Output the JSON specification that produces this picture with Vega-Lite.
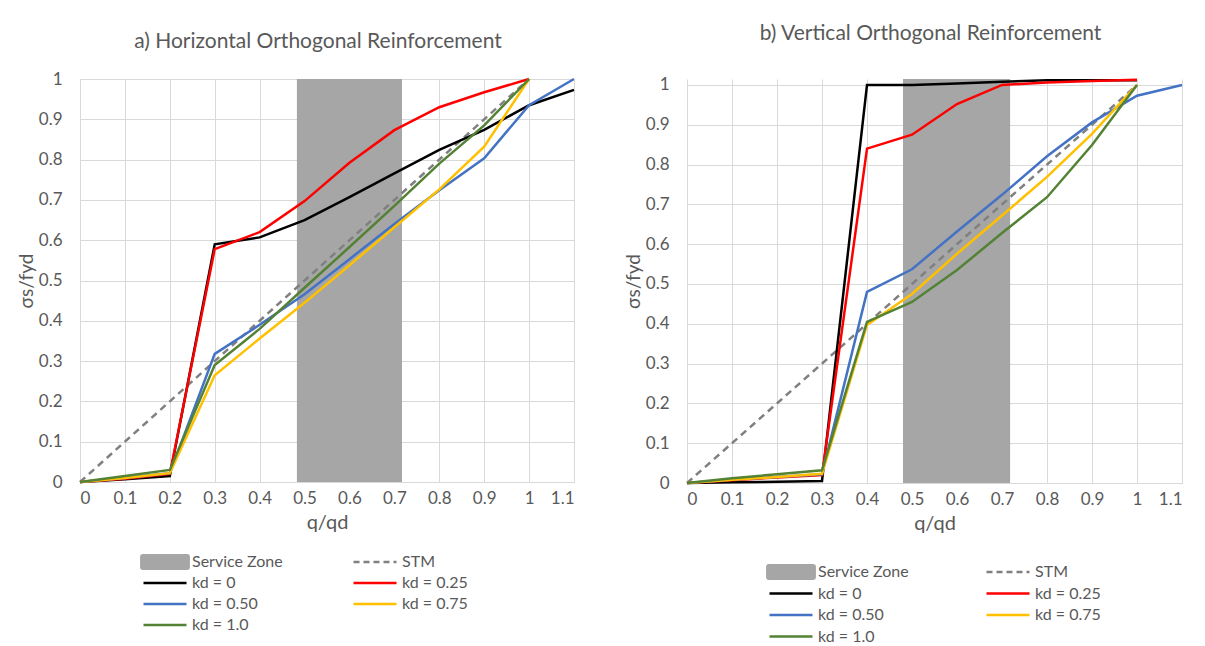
{
  "$schema": "https://vega.github.io/schema/vega-lite/v6.json",
  "background": "white",
  "padding": {"left": 17, "top": 22, "right": 5, "bottom": 5},
  "config": {
    "font": "Lato",
    "view": {"stroke": null},
    "title": {"font": "Lato", "fontSize": 21, "fontWeight": "normal", "color": "#595959"},
    "axis": {
      "labelFont": "Lato", "labelFontSize": 17, "labelColor": "#595959",
      "titleFont": "Lato", "titleFontWeight": "normal", "titleColor": "#595959",
      "gridColor": "#d9d9d9", "gridWidth": 1, "domainColor": "#d9d9d9",
      "ticks": false
    },
    "legend": {
      "labelFont": "Lato", "labelFontSize": 16, "labelColor": "#595959"
    }
  },
  "datasets": {
    "zones": [
      {"panel": "a", "series": "Service Zone", "q0": 0.483, "q1": 0.717},
      {"panel": "b", "series": "Service Zone", "q0": 0.48, "q1": 0.718}
    ],
    "a": [
      {"series": "STM", "q": 0, "s": 0}, {"series": "STM", "q": 1, "s": 1},
      {"series": "kd = 0", "q": 0, "s": 0}, {"series": "kd = 0", "q": 0.1, "s": 0.007}, {"series": "kd = 0", "q": 0.2, "s": 0.015}, {"series": "kd = 0", "q": 0.3, "s": 0.59}, {"series": "kd = 0", "q": 0.4, "s": 0.607}, {"series": "kd = 0", "q": 0.5, "s": 0.65}, {"series": "kd = 0", "q": 0.6, "s": 0.707}, {"series": "kd = 0", "q": 0.7, "s": 0.766}, {"series": "kd = 0", "q": 0.8, "s": 0.824}, {"series": "kd = 0", "q": 0.9, "s": 0.874}, {"series": "kd = 0", "q": 1.0, "s": 0.935}, {"series": "kd = 0", "q": 1.1, "s": 0.973},
      {"series": "kd = 0.25", "q": 0, "s": 0}, {"series": "kd = 0.25", "q": 0.1, "s": 0.008}, {"series": "kd = 0.25", "q": 0.2, "s": 0.02}, {"series": "kd = 0.25", "q": 0.3, "s": 0.578}, {"series": "kd = 0.25", "q": 0.4, "s": 0.62}, {"series": "kd = 0.25", "q": 0.5, "s": 0.697}, {"series": "kd = 0.25", "q": 0.6, "s": 0.792}, {"series": "kd = 0.25", "q": 0.7, "s": 0.873}, {"series": "kd = 0.25", "q": 0.8, "s": 0.93}, {"series": "kd = 0.25", "q": 0.9, "s": 0.967}, {"series": "kd = 0.25", "q": 1.0, "s": 1.0},
      {"series": "kd = 0.50", "q": 0, "s": 0}, {"series": "kd = 0.50", "q": 0.1, "s": 0.01}, {"series": "kd = 0.50", "q": 0.2, "s": 0.022}, {"series": "kd = 0.50", "q": 0.3, "s": 0.318}, {"series": "kd = 0.50", "q": 0.4, "s": 0.39}, {"series": "kd = 0.50", "q": 0.5, "s": 0.466}, {"series": "kd = 0.50", "q": 0.6, "s": 0.553}, {"series": "kd = 0.50", "q": 0.7, "s": 0.64}, {"series": "kd = 0.50", "q": 0.8, "s": 0.724}, {"series": "kd = 0.50", "q": 0.9, "s": 0.803}, {"series": "kd = 0.50", "q": 1.0, "s": 0.935}, {"series": "kd = 0.50", "q": 1.1, "s": 1.0},
      {"series": "kd = 0.75", "q": 0, "s": 0}, {"series": "kd = 0.75", "q": 0.1, "s": 0.01}, {"series": "kd = 0.75", "q": 0.2, "s": 0.022}, {"series": "kd = 0.75", "q": 0.3, "s": 0.265}, {"series": "kd = 0.75", "q": 0.4, "s": 0.356}, {"series": "kd = 0.75", "q": 0.5, "s": 0.445}, {"series": "kd = 0.75", "q": 0.6, "s": 0.538}, {"series": "kd = 0.75", "q": 0.7, "s": 0.632}, {"series": "kd = 0.75", "q": 0.8, "s": 0.726}, {"series": "kd = 0.75", "q": 0.9, "s": 0.832}, {"series": "kd = 0.75", "q": 1.0, "s": 1.0},
      {"series": "kd = 1.0", "q": 0, "s": 0}, {"series": "kd = 1.0", "q": 0.1, "s": 0.015}, {"series": "kd = 1.0", "q": 0.2, "s": 0.03}, {"series": "kd = 1.0", "q": 0.3, "s": 0.29}, {"series": "kd = 1.0", "q": 0.4, "s": 0.38}, {"series": "kd = 1.0", "q": 0.5, "s": 0.482}, {"series": "kd = 1.0", "q": 0.6, "s": 0.583}, {"series": "kd = 1.0", "q": 0.7, "s": 0.685}, {"series": "kd = 1.0", "q": 0.8, "s": 0.79}, {"series": "kd = 1.0", "q": 0.9, "s": 0.885}, {"series": "kd = 1.0", "q": 1.0, "s": 1.0}
    ],
    "b": [
      {"series": "STM", "q": 0, "s": 0}, {"series": "STM", "q": 1, "s": 1},
      {"series": "kd = 0", "q": 0, "s": 0}, {"series": "kd = 0", "q": 0.1, "s": 0.002}, {"series": "kd = 0", "q": 0.2, "s": 0.003}, {"series": "kd = 0", "q": 0.3, "s": 0.005}, {"series": "kd = 0", "q": 0.4, "s": 1.0}, {"series": "kd = 0", "q": 0.5, "s": 1.0}, {"series": "kd = 0", "q": 0.6, "s": 1.004}, {"series": "kd = 0", "q": 0.7, "s": 1.008}, {"series": "kd = 0", "q": 0.8, "s": 1.012}, {"series": "kd = 0", "q": 0.9, "s": 1.012}, {"series": "kd = 0", "q": 1.0, "s": 1.012},
      {"series": "kd = 0.25", "q": 0, "s": 0}, {"series": "kd = 0.25", "q": 0.1, "s": 0.007}, {"series": "kd = 0.25", "q": 0.2, "s": 0.014}, {"series": "kd = 0.25", "q": 0.3, "s": 0.02}, {"series": "kd = 0.25", "q": 0.4, "s": 0.84}, {"series": "kd = 0.25", "q": 0.5, "s": 0.875}, {"series": "kd = 0.25", "q": 0.6, "s": 0.952}, {"series": "kd = 0.25", "q": 0.7, "s": 1.0}, {"series": "kd = 0.25", "q": 0.8, "s": 1.006}, {"series": "kd = 0.25", "q": 0.9, "s": 1.01}, {"series": "kd = 0.25", "q": 1.0, "s": 1.013},
      {"series": "kd = 0.50", "q": 0, "s": 0}, {"series": "kd = 0.50", "q": 0.1, "s": 0.008}, {"series": "kd = 0.50", "q": 0.2, "s": 0.015}, {"series": "kd = 0.50", "q": 0.3, "s": 0.022}, {"series": "kd = 0.50", "q": 0.4, "s": 0.48}, {"series": "kd = 0.50", "q": 0.5, "s": 0.537}, {"series": "kd = 0.50", "q": 0.6, "s": 0.632}, {"series": "kd = 0.50", "q": 0.7, "s": 0.724}, {"series": "kd = 0.50", "q": 0.8, "s": 0.821}, {"series": "kd = 0.50", "q": 0.9, "s": 0.906}, {"series": "kd = 0.50", "q": 1.0, "s": 0.973}, {"series": "kd = 0.50", "q": 1.1, "s": 1.0},
      {"series": "kd = 0.75", "q": 0, "s": 0}, {"series": "kd = 0.75", "q": 0.1, "s": 0.008}, {"series": "kd = 0.75", "q": 0.2, "s": 0.015}, {"series": "kd = 0.75", "q": 0.3, "s": 0.023}, {"series": "kd = 0.75", "q": 0.4, "s": 0.397}, {"series": "kd = 0.75", "q": 0.5, "s": 0.475}, {"series": "kd = 0.75", "q": 0.6, "s": 0.576}, {"series": "kd = 0.75", "q": 0.7, "s": 0.672}, {"series": "kd = 0.75", "q": 0.8, "s": 0.769}, {"series": "kd = 0.75", "q": 0.9, "s": 0.877}, {"series": "kd = 0.75", "q": 1.0, "s": 1.0},
      {"series": "kd = 1.0", "q": 0, "s": 0}, {"series": "kd = 1.0", "q": 0.1, "s": 0.012}, {"series": "kd = 1.0", "q": 0.2, "s": 0.022}, {"series": "kd = 1.0", "q": 0.3, "s": 0.032}, {"series": "kd = 1.0", "q": 0.4, "s": 0.405}, {"series": "kd = 1.0", "q": 0.5, "s": 0.455}, {"series": "kd = 1.0", "q": 0.6, "s": 0.535}, {"series": "kd = 1.0", "q": 0.7, "s": 0.628}, {"series": "kd = 1.0", "q": 0.8, "s": 0.718}, {"series": "kd = 1.0", "q": 0.9, "s": 0.849}, {"series": "kd = 1.0", "q": 1.0, "s": 1.0}
    ]
  },
  "bounds": "flush",
  "spacing": 113,
  "resolve": {"scale": {"color": "independent", "y": "independent", "x": "independent"}, "legend": {"color": "independent"}},
  "hconcat": [
    {
      "width": 494, "height": 403,
      "title": {"text": "a) Horizontal Orthogonal Reinforcement", "offset": 18, "dx": -9},
      "layer": [
        {
          "data": {"name": "zones"},
          "transform": [{"filter": "datum.panel === 'a'"}],
          "mark": {"type": "rect"},
          "encoding": {
            "x": {"field": "q0", "type": "quantitative", "scale": {"domain": [0, 1.1], "nice": false}, "axis": {"values": [0,0.1,0.2,0.3,0.4,0.5,0.6,0.7,0.8,0.9,1,1.1], "format": ".1~f", "title": "q/qd", "titleFontSize": 20, "titlePadding": 6, "labelPadding": 8}},
            "x2": {"field": "q1"},
            "color": {"field": "series", "type": "nominal",
              "scale": {"domain": ["Service Zone","kd = 0","kd = 0.50","kd = 1.0","STM","kd = 0.25","kd = 0.75"], "range": ["#a6a6a6","#000000","#4472c4","#548235","#808080","#ff0000","#ffc000"]},
              "legend": {"title": null, "orient": "none", "legendX": 77, "legendY": 475, "columns": 2, "columnPadding": 65, "rowPadding": 5, "symbolType": "stroke", "symbolSize": 1849, "labelOffset": 19,
                "encode": {"symbols": {"update": {
                  "shape": {"signal": "datum.value === 'Service Zone' ? 'M-1.02,-0.37H1.02Q1.16,-0.37 1.16,-0.23V0.23Q1.16,0.37 1.02,0.37H-1.02Q-1.16,0.37 -1.16,0.23V-0.23Q-1.16,-0.37 -1.02,-0.37Z' : 'stroke'"},
                  "fill": {"signal": "datum.value === 'Service Zone' ? '#a6a6a6' : 'transparent'"},
                  "stroke": {"signal": "datum.value === 'Service Zone' ? 'transparent' : scale('color', datum.value)"},
                  "strokeWidth": {"signal": "datum.value === 'Service Zone' ? 0 : 2.5"},
                  "strokeDash": {"signal": "datum.value === 'STM' ? [6,4] : [1,0]"},
                  "opacity": {"value": 1}}}}}
            }
          }
        },
        {
          "data": {"name": "a"},
          "transform": [{"filter": "datum.series === 'STM'"}],
          "mark": {"type": "line", "strokeWidth": 2.5, "strokeDash": [7, 5]},
          "encoding": {
            "x": {"field": "q", "type": "quantitative"},
            "y": {"field": "s", "type": "quantitative", "scale": {"domain": [0, 1], "nice": false}, "axis": {"values": [0,0.1,0.2,0.3,0.4,0.5,0.6,0.7,0.8,0.9,1], "format": ".1~f", "title": "σs/fyd", "titleFontSize": 19, "titlePadding": 2, "labelPadding": 18, "domain": false}},
            "color": {"field": "series", "type": "nominal"}
          }
        },
        {
          "data": {"name": "a"},
          "transform": [{"filter": "datum.series !== 'STM'"}],
          "mark": {"type": "line", "strokeWidth": 2.5},
          "encoding": {
            "x": {"field": "q", "type": "quantitative"},
            "y": {"field": "s", "type": "quantitative"},
            "color": {"field": "series", "type": "nominal"}
          }
        }
      ]
    },
    {
      "width": 495, "height": 404,
      "title": {"text": "b) Vertical Orthogonal Reinforcement", "offset": 31, "dx": -4},
      "layer": [
        {
          "data": {"name": "zones"},
          "transform": [{"filter": "datum.panel === 'b'"}],
          "mark": {"type": "rect"},
          "encoding": {
            "x": {"field": "q0", "type": "quantitative", "scale": {"domain": [0, 1.1], "nice": false}, "axis": {"values": [0,0.1,0.2,0.3,0.4,0.5,0.6,0.7,0.8,0.9,1,1.1], "format": ".1~f", "title": "q/qd", "titleFontSize": 20, "titlePadding": 6, "labelPadding": 8}},
            "x2": {"field": "q1"},
            "color": {"field": "series", "type": "nominal",
              "scale": {"domain": ["Service Zone","kd = 0","kd = 0.50","kd = 1.0","STM","kd = 0.25","kd = 0.75"], "range": ["#a6a6a6","#000000","#4472c4","#548235","#808080","#ff0000","#ffc000"]},
              "legend": {"title": null, "orient": "none", "legendX": 96, "legendY": 485, "columns": 2, "columnPadding": 72, "rowPadding": 5.5, "symbolType": "stroke", "symbolSize": 1849, "labelOffset": 19,
                "encode": {"symbols": {"update": {
                  "shape": {"signal": "datum.value === 'Service Zone' ? 'M-1.02,-0.37H1.02Q1.16,-0.37 1.16,-0.23V0.23Q1.16,0.37 1.02,0.37H-1.02Q-1.16,0.37 -1.16,0.23V-0.23Q-1.16,-0.37 -1.02,-0.37Z' : 'stroke'"},
                  "fill": {"signal": "datum.value === 'Service Zone' ? '#a6a6a6' : 'transparent'"},
                  "stroke": {"signal": "datum.value === 'Service Zone' ? 'transparent' : scale('color', datum.value)"},
                  "strokeWidth": {"signal": "datum.value === 'Service Zone' ? 0 : 2.5"},
                  "strokeDash": {"signal": "datum.value === 'STM' ? [6,4] : [1,0]"},
                  "opacity": {"value": 1}}}}}
            }
          }
        },
        {
          "data": {"name": "b"},
          "transform": [{"filter": "datum.series === 'STM'"}],
          "mark": {"type": "line", "strokeWidth": 2.5, "strokeDash": [7, 5]},
          "encoding": {
            "x": {"field": "q", "type": "quantitative"},
            "y": {"field": "s", "type": "quantitative", "scale": {"domain": [0, 1.015], "nice": false}, "axis": {"values": [0,0.1,0.2,0.3,0.4,0.5,0.6,0.7,0.8,0.9,1], "format": ".1~f", "title": "σs/fyd", "titleFontSize": 19, "titlePadding": 2, "labelPadding": 18, "domain": false}},
            "color": {"field": "series", "type": "nominal"}
          }
        },
        {
          "data": {"name": "b"},
          "transform": [{"filter": "datum.series !== 'STM'"}],
          "mark": {"type": "line", "strokeWidth": 2.5},
          "encoding": {
            "x": {"field": "q", "type": "quantitative"},
            "y": {"field": "s", "type": "quantitative"},
            "color": {"field": "series", "type": "nominal"}
          }
        }
      ]
    }
  ]
}
